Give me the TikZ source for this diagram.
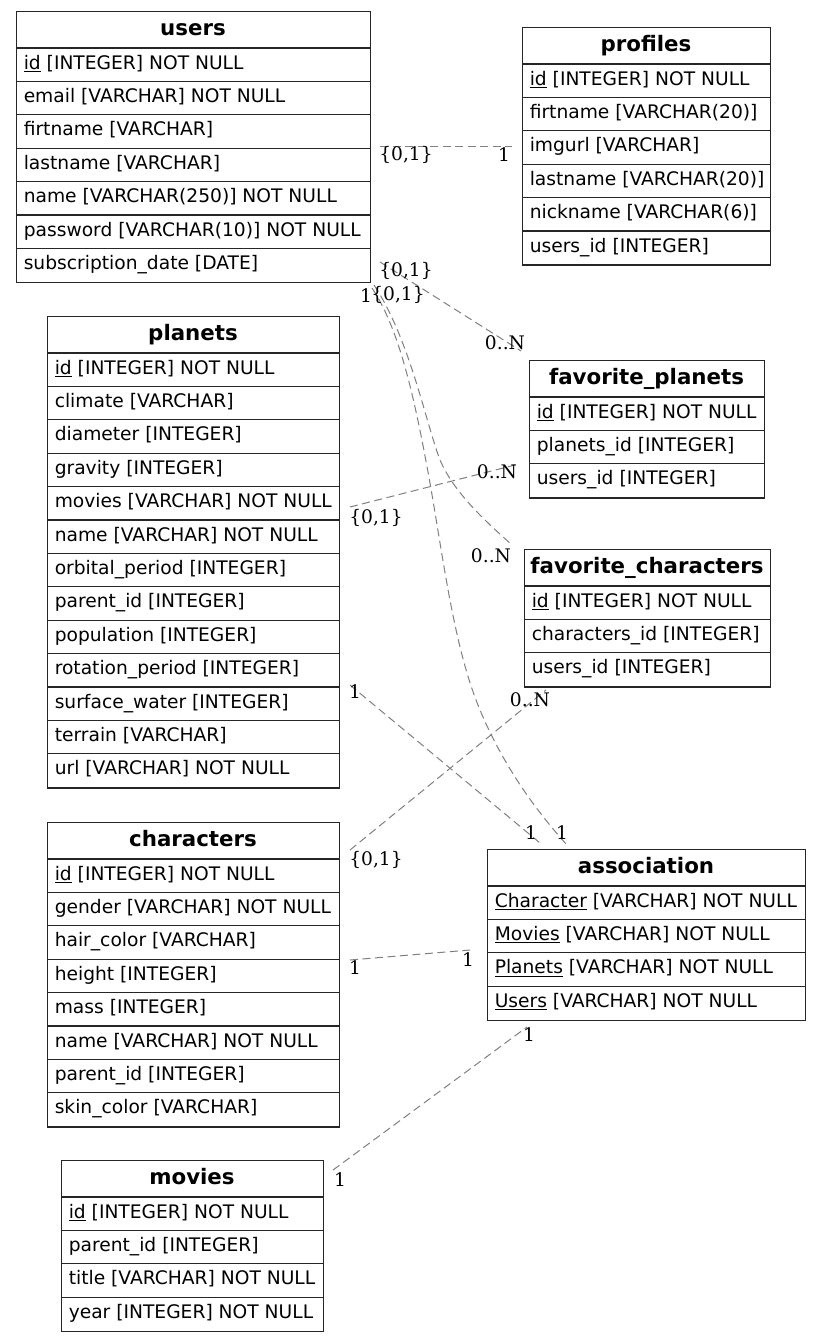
\documentclass[tikz,border=0pt]{standalone}
\usepackage{fontspec}
\setmainfont{DejaVu Sans}
\newfontfamily\cardfont{DejaVu Serif}
\usetikzlibrary{calc}

\tikzset{
  tablebox/.style={draw=black!85, line width=1pt, rectangle, inner sep=0pt, anchor=north west},
  rowline/.style={draw=black!85, line width=1pt},
  headtext/.style={anchor=base, inner sep=0pt, font=\bfseries\fontsize{16}{18}\selectfont},
  rowtext/.style={anchor=base west, inner sep=0pt, font=\fontsize{14}{16}\selectfont},
  rel/.style={draw=black!50, line width=0.75pt, dash pattern=on 6pt off 3.4pt},
  card/.style={inner sep=0pt, font=\cardfont\fontsize{14}{16}\selectfont},
}

% \ertable{name}{left}{top}{right}{title}{number of rows}{rows}
\newcommand\ertable[7]{%
  \node[tablebox, minimum width={(#4-#2)*0.75pt}, minimum height={(37+#6*33.4)*0.75pt}] (#1) at (#2,#3) {};
  \draw[rowline] (#2,#3+37) -- (#4,#3+37);
  \node[headtext] (#1-title) at ({(#2+#4)/2},#3+24) {#5};
  \foreach \row [count=\i] in {#7} {
    \node[rowtext] (#1-r\i) at (#2+7.5,{#3+37+(\i-1)*33.4+21}) {\row};
    \ifnum\i<#6
      \draw[rowline] (#2,{#3+37+\i*33.4}) -- (#4,{#3+37+\i*33.4});
    \fi
  }%
}

\begin{document}
\begin{tikzpicture}[x=0.75pt, y=-0.75pt]
\useasboundingbox[fill=white] (0,0) rectangle (821,1342);

% tables
\ertable{users}{16}{11}{370}{users}{7}{%
  {\underline{id} [INTEGER] NOT NULL},
  {email [VARCHAR] NOT NULL},
  {firtname [VARCHAR]},
  {lastname [VARCHAR]},
  {name [VARCHAR(250)] NOT NULL},
  {password [VARCHAR(10)] NOT NULL},
  {subscription\_date [DATE]}}

\ertable{profiles}{522}{27}{770}{profiles}{6}{%
  {\underline{id} [INTEGER] NOT NULL},
  {firtname [VARCHAR(20)]},
  {imgurl [VARCHAR]},
  {lastname [VARCHAR(20)]},
  {nickname [VARCHAR(6)]},
  {users\_id [INTEGER]}}

\ertable{planets}{47}{316}{339}{planets}{13}{%
  {\underline{id} [INTEGER] NOT NULL},
  {climate [VARCHAR]},
  {diameter [INTEGER]},
  {gravity [INTEGER]},
  {movies [VARCHAR] NOT NULL},
  {name [VARCHAR] NOT NULL},
  {orbital\_period [INTEGER]},
  {parent\_id [INTEGER]},
  {population [INTEGER]},
  {rotation\_period [INTEGER]},
  {surface\_water [INTEGER]},
  {terrain [VARCHAR]},
  {url [VARCHAR] NOT NULL}}

\ertable{favplanets}{529}{360}{764}{favorite\_planets}{3}{%
  {\underline{id} [INTEGER] NOT NULL},
  {planets\_id [INTEGER]},
  {users\_id [INTEGER]}}

\ertable{favchars}{524}{549}{770}{favorite\_characters}{3}{%
  {\underline{id} [INTEGER] NOT NULL},
  {characters\_id [INTEGER]},
  {users\_id [INTEGER]}}

\ertable{characters}{47}{822}{339}{characters}{8}{%
  {\underline{id} [INTEGER] NOT NULL},
  {gender [VARCHAR] NOT NULL},
  {hair\_color [VARCHAR]},
  {height [INTEGER]},
  {mass [INTEGER]},
  {name [VARCHAR] NOT NULL},
  {parent\_id [INTEGER]},
  {skin\_color [VARCHAR]}}

\ertable{association}{487}{849}{805}{association}{4}{%
  {\underline{Character} [VARCHAR] NOT NULL},
  {\underline{Movies} [VARCHAR] NOT NULL},
  {\underline{Planets} [VARCHAR] NOT NULL},
  {\underline{Users} [VARCHAR] NOT NULL}}

\ertable{movies}{61}{1160}{323}{movies}{4}{%
  {\underline{id} [INTEGER] NOT NULL},
  {parent\_id [INTEGER]},
  {title [VARCHAR] NOT NULL},
  {year [INTEGER] NOT NULL}}

% connector end points
\coordinate (up-a) at (380,146);
\coordinate (up-b) at (512,146);
\coordinate (ufp-a) at (380,262);
\coordinate (ufp-b) at (521,351);
\coordinate (ufc-a) at (374,285);
\coordinate (ufc-b) at (512,545);
\coordinate (ua-a) at (372,288);
\coordinate (ua-b) at (567,845);
\coordinate (pfp-a) at (350,507);
\coordinate (pfp-b) at (515,465);
\coordinate (pa-a) at (350,685);
\coordinate (pa-b) at (540,843);
\coordinate (cfc-a) at (350,850);
\coordinate (cfc-b) at (546,690);
\coordinate (ca-a) at (350,960);
\coordinate (ca-b) at (470,950);
\coordinate (ma-a) at (333,1170);
\coordinate (ma-b) at (527,1027);

% relationships
\draw[rel] (up-a) -- (up-b);
\draw[rel] (ufp-a) -- (ufp-b);
\draw[rel] (ufc-a) .. controls (410,340) and (425,420) .. (440,460)
                   .. controls (455,495) and (490,525) .. (ufc-b);
\draw[rel] (ua-a) .. controls (400,330) and (415,400) .. (430,483)
                  .. controls (445,570) and (455,650) .. (480,710)
                  .. controls (505,770) and (540,815) .. (ua-b);
\draw[rel] (pfp-a) -- (pfp-b);
\draw[rel] (pa-a) -- (pa-b);
\draw[rel] (cfc-a) -- (cfc-b);
\draw[rel] (ca-a) -- (ca-b);
\draw[rel] (ma-a) -- (ma-b);

% cardinalities
\node[card] (k1) at (406,155) {\{0,1\}};
\node[card] (k2) at (504,155) {1};
\node[card] (k3) at (406,271) {\{0,1\}};
\node[card] (k4) at (505,343) {0..N};
\node[card] (k5) at (366,296) {1};
\node[card] (k6) at (398,295) {\{0,1\}};
\node[card] (k7) at (491,556) {0..N};
\node[card] (k8) at (562,833) {1};
\node[card] (k9) at (376,518) {\{0,1\}};
\node[card] (k10) at (497,472) {0..N};
\node[card] (k11) at (355,692) {1};
\node[card] (k12) at (531,833) {1};
\node[card] (k13) at (376,860) {\{0,1\}};
\node[card] (k14) at (530,700) {0..N};
\node[card] (k15) at (355,968) {1};
\node[card] (k16) at (468,960) {1};
\node[card] (k17) at (340,1180) {1};
\node[card] (k18) at (529,1035) {1};
\end{tikzpicture}
\end{document}
